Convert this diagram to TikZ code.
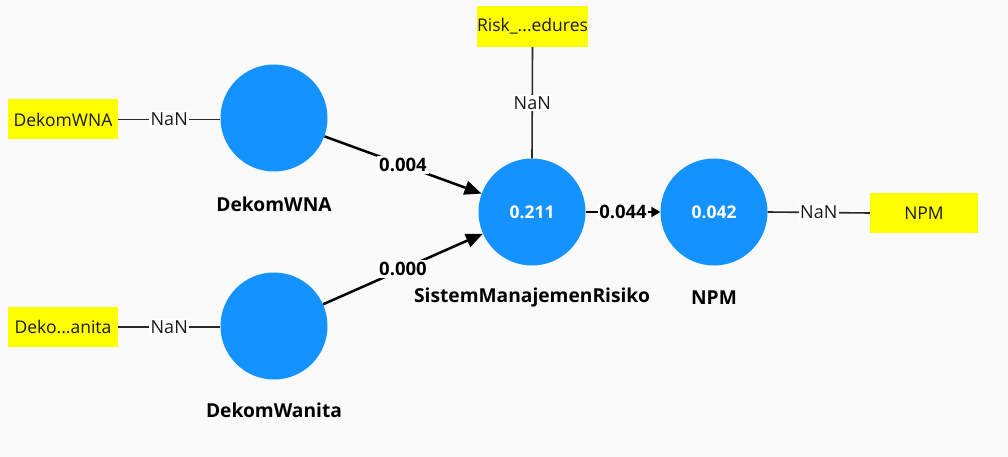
\documentclass[tikz,border=0pt]{standalone}
\usepackage{fontspec}
\setmainfont{Open Sans}
\usetikzlibrary{arrows.meta}
\definecolor{bg}{RGB}{250,250,250}
\definecolor{lvblue}{RGB}{20,146,255}
\definecolor{ind}{RGB}{255,255,0}
\definecolor{ln}{RGB}{40,40,40}
\tikzset{
  lv/.style={circle,fill=lvblue,minimum size=107pt,inner sep=0pt,text=white,font=\fontsize{17.5}{20}\selectfont\bfseries},
  indbox/.style={fill=ind,minimum width=110pt,minimum height=40pt,inner sep=0pt,font=\fontsize{17.5}{21}\selectfont,text=black!90},
  lvname/.style={font=\fontsize{19.2}{23}\selectfont\bfseries},
  nanlbl/.style={fill=white,inner sep=1.5pt,font=\fontsize{18}{21}\selectfont,text=black!90},
  pathlbl/.style={fill=white,inner sep=2pt,font=\fontsize{18.5}{22}\selectfont\bfseries},
  meas/.style={draw=ln,line width=1.6pt},
  struct/.style={draw=black,line width=2.5pt,-{Triangle[length=17pt,width=14pt]}},
}
\begin{document}
\begin{tikzpicture}[x=1pt,y=-1pt]
\useasboundingbox[fill=bg] (0,0) rectangle (1008,457);
% latent variables
\node[lv] (wna) at (274,118) {};
\node[lv] (wan) at (274,326) {};
\node[lv] (smr) at (532,212) {0.211};
\node[lv] (npm) at (714,212) {0.042};
% names
\node[lvname] (wnaN) at (274,204) {DekomWNA};
\node[lvname] (wanN) at (274,410) {DekomWanita};
\node[lvname] (smrN) at (532,298) {SistemManajemenRisiko};
\node[lvname] (npmN) at (714,298) {NPM};
% indicators
\node[indbox] (i1) at (63,119.5) {DekomWNA};
\node[indbox] (i2) at (63,327) {Deko...anita};
\node[indbox,minimum width=111pt,minimum height=41pt] (i3) at (532.5,26.5) {Risk\_...edures};
\node[indbox,minimum width=108pt] (i4) at (924,213) {NPM};
% measurement lines
\draw[meas] (i1.east) -- node[nanlbl] {NaN} (wna.west|-i1.east);
\draw[meas] (i2.east) -- node[nanlbl] {NaN} (wan.west|-i2.east);
\draw[meas] (i3.south) -- node[nanlbl] {NaN} (smr.north);
\draw[meas] (npm.east) -- node[nanlbl] {NaN} (i4.west);
% structural paths
\draw[struct] (wna) -- node[pathlbl] {0.004} (smr);
\draw[struct] (wan) -- node[pathlbl] {0.000} (smr);
\draw[draw=black,line width=2.5pt,-{Triangle[length=9pt,width=10pt]}] (smr) -- node[pathlbl,inner sep=1pt] {0.044} (npm);
\end{tikzpicture}
\end{document}
